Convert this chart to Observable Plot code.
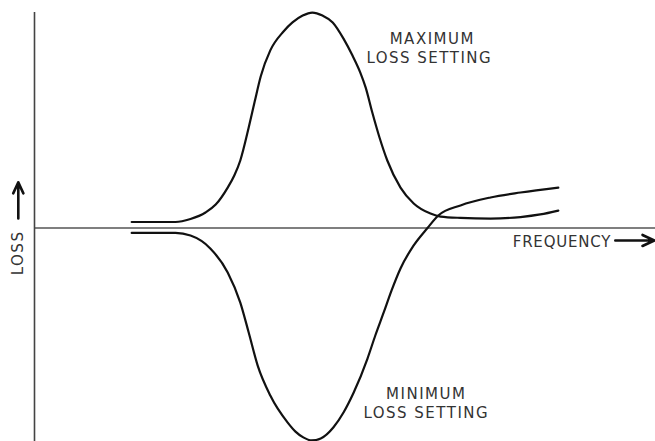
<!DOCTYPE html>
<html>
<head>
<meta charset="utf-8">
<script src="https://cdn.jsdelivr.net/npm/d3@7"></script>
<script src="https://cdn.jsdelivr.net/npm/@observablehq/plot@0.6"></script>
<style>
  html, body { margin: 0; padding: 0; background: #fff; }
  #chart svg { display: block; }
</style>
</head>
<body>
<div id="chart"></div>
<script>
// Frequency (arbitrary units) and loss (arbitrary units)
const maxFreq = [1.62, 2.35, 2.6, 2.85, 3.02, 3.22, 3.33, 3.43, 3.57, 3.67, 3.77, 3.93, 4.15, 4.3, 4.47, 4.63, 4.8, 4.97, 5.15, 5.3, 5.43, 5.52, 5.63, 5.75, 5.88, 6.1, 6.32, 6.6, 6.77, 7.1, 7.6, 8.1, 8.43, 8.73];
const maxLoss = [0.28, 0.28, 0.42, 0.72, 1.09, 1.88, 2.44, 3.14, 4.67, 5.88, 7.05, 8.26, 9.14, 9.56, 9.88, 10.02, 9.88, 9.56, 8.81, 8.02, 7.23, 6.53, 5.37, 4.21, 3.14, 1.88, 1.14, 0.67, 0.53, 0.47, 0.44, 0.51, 0.63, 0.81];
const minFreq = [1.62, 2.35, 2.6, 2.93, 3.22, 3.43, 3.57, 3.72, 3.93, 4.22, 4.35, 4.48, 4.62, 4.77, 4.98, 5.15, 5.32, 5.55, 5.68, 5.82, 5.95, 6.1, 6.32, 6.55, 6.73, 7.1, 7.6, 8.1, 8.73];
const minLoss = [-0.23, -0.23, -0.35, -0.95, -2.07, -3.47, -4.86, -6.4, -7.79, -9.05, -9.47, -9.74, -9.88, -9.79, -9.28, -8.58, -7.65, -6.07, -5.0, -3.93, -2.91, -1.88, -0.81, 0.0, 0.58, 1.05, 1.42, 1.65, 1.88];

const curveLabels = ["MAXIMUM", "LOSS SETTING", "MINIMUM", "LOSS SETTING"];
const labelFreq = [6.63, 6.58, 6.53, 6.53];
const labelLoss = [8.78, 7.9, -7.73, -8.61];

const xTitle = "FREQUENCY";
const yTitle = "LOSS";

const maxData = maxFreq.map((f, i) => ({f, l: maxLoss[i]}));
const minData = minFreq.map((f, i) => ({f, l: minLoss[i]}));
const labels = curveLabels.map((t, i) => ({t, f: labelFreq[i], l: labelLoss[i]}));

const font = "'DejaVu Sans', sans-serif";
const textColor = "#333";
const fs = 15;

const chart = Plot.plot({
  width: 655,
  height: 441,
  style: {background: "#fff", fontFamily: font},
  x: {domain: [0, 10.35], range: [34, 655], axis: null},
  y: {domain: [-10, 10], range: [442.5, 12.5], axis: null},
  marks: [
    Plot.ruleY([0], {x1: 0, x2: 10.35, stroke: "#555", strokeWidth: 1.6}),
    Plot.ruleX([0], {y1: -10, y2: 10.02, stroke: "#444", strokeWidth: 1.6}),
    Plot.line(maxData, {x: "f", y: "l", curve: "monotone-x", stroke: "#111", strokeWidth: 2.2}),
    Plot.line(minData, {x: "f", y: "l", curve: "monotone-x", stroke: "#111", strokeWidth: 2.2}),
    Plot.text(labels, {x: "f", y: "l", text: "t", fontSize: fs, fill: textColor, textAnchor: "middle", lineAnchor: "middle"}),
    Plot.text([xTitle], {x: 7.97, y: -0.66, text: d => d, fontSize: fs, fill: textColor, textAnchor: "start", lineAnchor: "middle"}),
    Plot.arrow([0], {x1: 9.68, x2: 10.33, y1: -0.58, y2: -0.58, stroke: "#111", strokeWidth: 2.6, headLength: 9, headAngle: 50}),
    Plot.text([yTitle], {x: -0.27, y: -1.16, text: d => d, fontSize: fs, fill: textColor, rotate: -90, textAnchor: "middle", lineAnchor: "middle"}),
    Plot.arrow([0], {x1: -0.27, x2: -0.27, y1: 0.44, y2: 2.12, stroke: "#111", strokeWidth: 2.6, headLength: 9, headAngle: 50})
  ]
});
chart.querySelectorAll("text").forEach(t => {
  t.setAttribute("letter-spacing", t.textContent === xTitle ? "0.8" : "1.5");
});
document.getElementById("chart").appendChild(chart);
</script>
</body>
</html>
